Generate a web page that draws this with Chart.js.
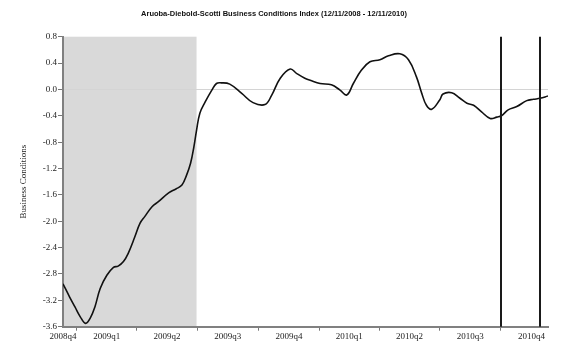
<!DOCTYPE html>
<html>
<head>
<meta charset="utf-8">
<title>Aruoba-Diebold-Scotti Business Conditions Index</title>
<script src="https://cdn.jsdelivr.net/npm/chart.js"></script>
<style>
  html, body { margin: 0; padding: 0; background: #fff; }
  #wrap { width: 575px; height: 351px; }
</style>
</head>
<body>
<div id="wrap"><canvas id="adsChart"></canvas></div>
<script>
// days counted from 12/11/2008
const days = [0, 10, 18, 26, 34, 41, 48, 56, 66, 76, 83, 91, 98, 108, 116, 123, 134, 144, 159, 170,
  179, 186, 192, 197, 201, 206, 214, 224, 231, 238, 251, 269, 286, 304, 314, 327, 342, 352, 364, 372, 387,
  404, 417, 427, 437, 449, 462, 477, 490, 507, 520, 532, 540, 547, 555, 567, 572, 585, 597, 608, 618,
  630, 643, 653, 660, 670, 683, 698, 708, 718, 730];
const values = [-2.95, -3.15, -3.30, -3.45, -3.55, -3.47, -3.30, -3.02, -2.82, -2.70, -2.68, -2.61, -2.49, -2.24, -2.03, -1.93, -1.78, -1.70, -1.57, -1.51,
  -1.45, -1.30, -1.12, -0.87, -0.62, -0.36, -0.19, -0.01, 0.09, 0.10, 0.08, -0.06, -0.20, -0.23, -0.09, 0.17, 0.31, 0.24, 0.17, 0.14, 0.09,
  0.07, -0.01, -0.085, 0.09, 0.29, 0.42, 0.45, 0.51, 0.54, 0.45, 0.19, -0.06, -0.24, -0.30, -0.16, -0.07, -0.05, -0.13, -0.21, -0.24,
  -0.34, -0.44, -0.42, -0.40, -0.31, -0.26, -0.17, -0.15, -0.135, -0.10];

// quarter boundaries (tick marks) and label positions
const quarterStarts = [21, 111, 202, 294, 386, 476, 567, 659];
const quarterLabels = ["2008q4", "2009q1", "2009q2", "2009q3", "2009q4", "2010q1", "2010q2", "2010q3", "2010q4"];
const labelDays = [0, 66, 156.5, 248, 340, 431, 521.5, 613, 705];

const recession = [0, 201];
const markers = [659, 718];

const titleText = "Aruoba-Diebold-Scotti Business Conditions Index (12/11/2008 - 12/11/2010)";
const yTitle = "Business Conditions";

const points = days.map((d, i) => ({ x: d, y: values[i] }));
const isBoundary = (v) => quarterStarts.includes(v);

const shadePlugin = {
  id: "shade",
  beforeDraw(chart) {
    const { ctx, chartArea, scales } = chart;
    const x0 = scales.x.getPixelForValue(recession[0]);
    const x1 = scales.x.getPixelForValue(recession[1]);
    ctx.save();
    ctx.fillStyle = "#d9d9d9";
    ctx.fillRect(x0, chartArea.top, x1 - x0, chartArea.bottom - chartArea.top);
    ctx.restore();
  },
  afterDatasetsDraw(chart) {
    const { ctx, chartArea, scales } = chart;
    ctx.save();
    ctx.strokeStyle = "#1a1a1a";
    ctx.lineWidth = 2;
    markers.forEach(m => {
      const px = Math.round(scales.x.getPixelForValue(m));
      ctx.beginPath();
      ctx.moveTo(px, chartArea.top);
      ctx.lineTo(px, chartArea.bottom);
      ctx.stroke();
    });
    ctx.restore();
  }
};

new Chart(document.getElementById("adsChart"), {
  type: "line",
  data: {
    datasets: [{
      label: yTitle,
      data: points,
      borderColor: "#111",
      borderWidth: 1.6,
      pointRadius: 0,
      tension: 0.4,
      fill: false
    }]
  },
  options: {
    responsive: true,
    maintainAspectRatio: false,
    animation: false,
    layout: { padding: { left: 0, right: 27, top: 0, bottom: 0 } },
    plugins: {
      legend: { display: false },
      tooltip: { enabled: false },
      title: {
        display: true,
        text: titleText,
        color: "#111",
        font: { family: "Liberation Sans", size: 7.5, weight: "bold" },
        padding: { top: 9.5, bottom: 18.2 }
      }
    },
    scales: {
      x: {
        type: "linear",
        min: 0,
        max: 730,
        afterBuildTicks: (scale) => {
          const all = quarterStarts.concat(labelDays).sort((a, b) => a - b);
          scale.ticks = all.map(v => ({ value: v }));
        },
        afterFit: (scale) => { scale.height = 24.3; },
        ticks: {
          autoSkip: false,
          maxRotation: 0,
          padding: 1,
          color: "#222",
          font: { family: "Liberation Serif", size: 9 },
          callback: (v) => {
            const i = labelDays.indexOf(v);
            return i >= 0 ? quarterLabels[i] : "";
          }
        },
        grid: {
          drawOnChartArea: false,
          tickLength: 4,
          tickColor: (ctx) => (ctx.tick && isBoundary(ctx.tick.value)) ? "#777" : "rgba(0,0,0,0)"
        },
        border: { color: "#808080", width: 2 }
      },
      y: {
        min: -3.6,
        max: 0.8,
        afterFit: (scale) => { scale.width = 63; },
        ticks: {
          stepSize: 0.4,
          padding: 1,
          color: "#222",
          font: { family: "Liberation Serif", size: 9 },
          callback: (v) => v.toFixed(1)
        },
        grid: {
          drawOnChartArea: true,
          tickLength: 5,
          tickColor: "#777",
          color: (ctx) => (ctx.tick && Math.abs(ctx.tick.value) < 1e-6) ? "#d4d4d4" : "rgba(0,0,0,0)"
        },
        border: { color: "#808080", width: 2 },
        title: {
          display: true,
          text: yTitle,
          color: "#222",
          font: { family: "Liberation Serif", size: 9 },
          padding: { top: 18, bottom: 0 }
        }
      }
    }
  },
  plugins: [shadePlugin]
});
</script>
</body>
</html>
